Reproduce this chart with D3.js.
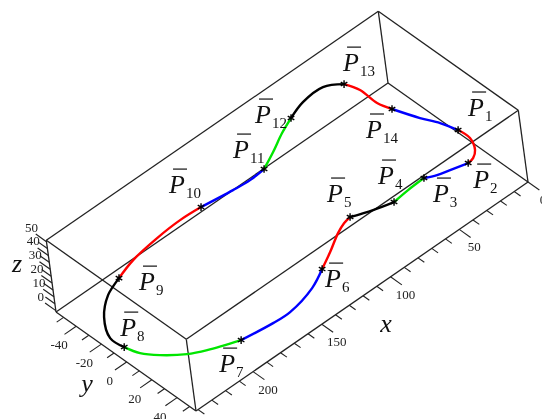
<!DOCTYPE html>
<html>
<head>
<meta charset="utf-8">
<script src="https://d3js.org/d3.v7.min.js"></script>
<style>
    body { margin: 0; background: white; }
    text { font-family: "Liberation Serif", serif; }
</style>
</head>
<body>
<div id="chart"></div>
<script>
// axis ranges of the box
const xExtent = [0, 241.5];
const yExtent = [-56, 55];
const zExtent = [-1, 51];

const xMajor = [0, 50, 100, 150, 200];
const xMinor = [10, 20, 30, 40, 60, 70, 80, 90, 110, 120, 130, 140, 160, 170, 180, 190, 210, 220, 230, 240];
const yMajor = [-40, -20, 0, 20, 40];
const yMinor = [-50, -30, -10, 10, 30, 50];
const zMajor = [0, 10, 20, 30, 40, 50];
const zMinor = [5, 15, 25, 35, 45];

// the curve, one list per segment P1-P2, P2-P3 ... P14-P1, read in the plane z = 20
const curveZ = 20;
const segColor = ["red", "blue", "#00e600", "black", "red", "blue", "#00e600", "black", "red", "blue", "#00e600", "black", "red", "blue"];
const segX = [
    [12.3, 12.1, 16.5, 21.4, 25.8],
    [25.8, 36.1, 43.5, 49.9],
    [49.9, 62.0, 73.4],
    [73.4, 85.3, 97.4],
    [97.4, 102.8, 110.2, 123.0, 134.8],
    [134.8, 148.4, 169.0, 181.0, 201.6],
    [201.6, 219.3, 228.8, 239.3, 245.6, 248.3],
    [248.3, 248.8, 240.1, 227.2, 214.3],
    [214.3, 199.7, 179.4, 161.6, 147.1],
    [147.1, 126.5, 115.0, 104.1],
    [104.1, 91.9, 78.7, 67.6],
    [67.6, 54.9, 39.7, 30.4],
    [30.4, 27.6, 28.1, 25.7],
    [25.7, 20.1, 15.3, 12.3]
];
const segY = [
    [16.1, 25.3, 34.1, 37.9, 38.8],
    [38.8, 35.7, 33.4, 30.0],
    [30.0, 30.6, 31.9],
    [31.9, 28.2, 23.2],
    [23.2, 24.3, 27.6, 35.3, 41.8],
    [41.8, 48.7, 53.7, 53.3, 50.4],
    [50.4, 42.8, 37.2, 27.2, 18.2, 8.6],
    [8.6, -2.0, -16.3, -27.2, -32.6],
    [-32.6, -37.3, -40.4, -41.6, -40.8],
    [-40.8, -37.9, -36.9, -37.7],
    [-37.7, -43.8, -51.1, -56.1],
    [-56.1, -60.5, -61.2, -54.6],
    [-54.6, -45.0, -30.9, -21.7],
    [-21.7, -5.6, 5.1, 16.1]
];
const pointNames = ["1", "2", "3", "4", "5", "6", "7", "8", "9", "10", "11", "12", "13", "14"];

const svg = d3.select("div#chart")
    .append("svg")
    .attr("width", 542)
    .attr("height", 419)
    .style("display", "block")
    .style("filter", "blur(0.4px)")
    .style("background", "white");

// oblique projection, each axis moves the pen along its own screen direction
const xScaleH = d3.scaleLinear().domain(xExtent).range([0, -332]);
const xScaleV = d3.scaleLinear().domain(xExtent).range([0, 229]);
const yScaleH = d3.scaleLinear().domain(yExtent).range([388, 528]);
const yScaleV = d3.scaleLinear().domain(yExtent).range([83, 182]);
const zScaleH = d3.scaleLinear().domain(zExtent).range([0, -9.7]);
const zScaleV = d3.scaleLinear().domain(zExtent).range([0, -71.7]);

function project(x, y, z) {
    return [xScaleH(x) + yScaleH(y) + zScaleH(z), xScaleV(x) + yScaleV(y) + zScaleV(z)];
}

const lineColor = "#222";

function edge(a, b, width) {
    const p = project(a[0], a[1], a[2]);
    const q = project(b[0], b[1], b[2]);
    svg.append("line")
        .attr("x1", p[0]).attr("y1", p[1])
        .attr("x2", q[0]).attr("y2", q[1])
        .attr("stroke", lineColor)
        .attr("stroke-width", width);
}

// box
const [x0, x1] = xExtent, [y0, y1] = yExtent, [z0, z1] = zExtent;
const corners = [
    [[x0, y0, z0], [x1, y0, z0]], [[x0, y1, z0], [x1, y1, z0]],
    [[x0, y0, z1], [x1, y0, z1]], [[x0, y1, z1], [x1, y1, z1]],
    [[x0, y0, z0], [x0, y1, z0]], [[x1, y0, z0], [x1, y1, z0]],
    [[x0, y0, z1], [x0, y1, z1]], [[x1, y0, z1], [x1, y1, z1]],
    [[x0, y0, z0], [x0, y0, z1]], [[x1, y0, z0], [x1, y0, z1]],
    [[x0, y1, z0], [x0, y1, z1]], [[x1, y1, z0], [x1, y1, z1]]
];
corners.forEach(c => edge(c[0], c[1], 1.3));

// ticks
xMajor.forEach(d => edge([d, y1, z0], [d, y1 + 9, z0], 1.1));
xMinor.forEach(d => edge([d, y1, z0], [d, y1 + 5, z0], 1.1));
yMajor.forEach(d => edge([x1, d, z0], [x1 + 8.5, d, z0], 1.1));
yMinor.forEach(d => edge([x1, d, z0], [x1 + 5, d, z0], 1.1));
zMajor.forEach(d => edge([x1, y0, d], [x1, y0 - 8.5, d], 1.2));
zMinor.forEach(d => edge([x1, y0, d], [x1, y0 - 7.5, d], 1.2));

function tickLabel(p, dx, dy, label) {
    svg.append("text")
        .attr("x", p[0] + dx)
        .attr("y", p[1] + dy)
        .attr("text-anchor", "middle")
        .style("font-size", "13px")
        .attr("fill", "#222")
        .text(label);
}
xMajor.forEach(d => tickLabel(project(d, y1, z0), 15, 22, d));
yMajor.forEach(d => tickLabel(project(x1, d, z0), -17, 23, d));
zMajor.forEach(d => tickLabel(project(x1, y0, d), -15, -10, d));

// axis names
[["x", 386, 332], ["y", 87, 392], ["z", 17, 272]].forEach(d => {
    svg.append("text")
        .attr("x", d[1])
        .attr("y", d[2])
        .attr("text-anchor", "middle")
        .style("font-size", "26px")
        .style("font-style", "italic")
        .attr("fill", "#111")
        .text(d[0]);
});

// curve
const line = d3.line().curve(d3.curveCatmullRom);
segX.forEach((xs, i) => {
    const pts = xs.map((v, j) => project(v, segY[i][j], curveZ));
    svg.append("path")
        .attr("d", line(pts))
        .attr("fill", "none")
        .attr("stroke", segColor[i])
        .attr("stroke-width", 2.4);
});

// star and name at the start of every segment
const labelOffset = [[10, -14], [5, 25], [9, 24], [-16, -18], [-23, -15], [3, 18], [-22, 32],
    [-4, -11], [20, 12], [-32, -14], [-31, -11], [-36, 5], [-1, -13], [-26, 29]];
const star = d3.symbol().type(d3.symbolAsterisk).size(40);

pointNames.forEach((name, i) => {
    const p = project(segX[i][0], segY[i][0], curveZ);
    svg.append("path")
        .attr("d", star())
        .attr("transform", "translate(" + p[0] + "," + p[1] + ")")
        .attr("fill", "none")
        .attr("stroke", "black")
        .attr("stroke-width", 1.4);

    const lx = p[0] + labelOffset[i][0];
    const ly = p[1] + labelOffset[i][1];
    const label = svg.append("text").attr("x", lx).attr("y", ly).attr("fill", "#111");
    label.append("tspan").style("font-size", "26px").style("font-style", "italic").text("P");
    label.append("tspan").attr("dy", 5).attr("dx", 1).style("font-size", "15px").text(name);
    svg.append("line")
        .attr("x1", lx + 4).attr("y1", ly - 24)
        .attr("x2", lx + 18).attr("y2", ly - 24)
        .attr("stroke", "#111")
        .attr("stroke-width", 1.2);
});
</script>
</body>
</html>
